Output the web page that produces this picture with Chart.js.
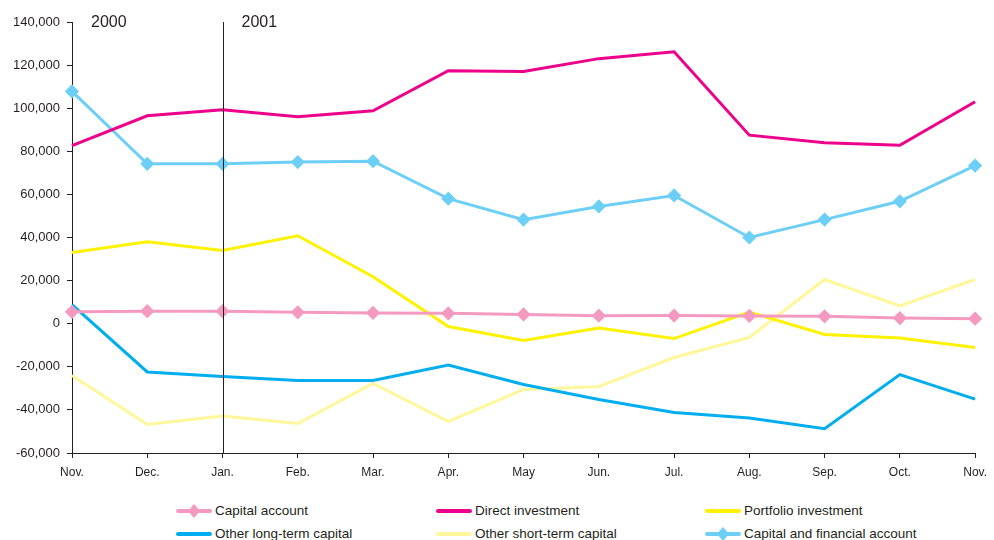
<!DOCTYPE html>
<html>
<head>
<meta charset="utf-8">
<script src="https://cdn.jsdelivr.net/npm/chart.js@4/dist/chart.umd.min.js"></script>
<style>
  body { margin: 0; background: #fff; font-family: "Liberation Sans", Arial, sans-serif; }
  #wrap { position: relative; width: 994px; height: 540px; }
  #legend { position: absolute; left: 0; top: 503px; width: 994px; }
  .legend-item { position: absolute; display: flex; align-items: center; font-size: 13.5px; color: #231f20; }
  .legend-item canvas { margin-right: 3px; }
</style>
</head>
<body>
<div id="wrap">
  <canvas id="chart" width="994" height="490"></canvas>
  <div id="legend"></div>
</div>
<script>
const months = ['Nov.', 'Dec.', 'Jan.', 'Feb.', 'Mar.', 'Apr.', 'May', 'Jun.', 'Jul.', 'Aug.', 'Sep.', 'Oct.', 'Nov.'];

const capitalAccount = [5500, 5800, 5800, 5300, 5000, 4800, 4300, 3700, 3800, 3600, 3400, 2600, 2300];
const directInvestment = [82600, 96500, 99300, 96000, 98800, 117400, 117000, 123000, 126200, 87500, 84000, 82800, 103000];
const portfolioInvestment = [33000, 38000, 34000, 40800, 21800, -1300, -7800, -2000, -6900, 5400, -5000, -6600, -11000];
const otherLongTerm = [8900, -22400, -24500, -26300, -26300, -19200, -28200, -35200, -41200, -43800, -48700, -23600, -35000];
const otherShortTerm = [-24000, -46800, -42800, -46300, -27700, -45400, -30500, -29200, -15700, -6400, 20500, 8200, 20500];
const capitalFinancial = [107800, 74200, 74200, 75000, 75400, 58000, 48300, 54400, 59500, 40000, 48300, 56800, 73400];

const yearLabels = [{ text: '2000', index: 0 }, { text: '2001', index: 2 }];
const axisColor = '#231f20';

function makeSet(label, data, color, diamonds) {
    return {
        label: label,
        data: data,
        borderColor: color,
        backgroundColor: color,
        borderWidth: 3,
        pointStyle: 'rectRot',
        pointRadius: diamonds ? 5 : 0,
        pointHoverRadius: diamonds ? 5 : 0,
        tension: 0
    };
}

const datasets = [
    makeSet('Capital account', capitalAccount, '#f49ac1', true),
    makeSet('Direct investment', directInvestment, '#ec008c', false),
    makeSet('Portfolio investment', portfolioInvestment, '#fff200', false),
    makeSet('Other long-term capital', otherLongTerm, '#00aeef', false),
    makeSet('Other short-term capital', otherShortTerm, '#fff799', false),
    makeSet('Capital and financial account', capitalFinancial, '#6dcff6', true)
];

// vertical divider at Jan. and the year captions
const yearMarker = {
    id: 'yearMarker',
    afterDatasetsDraw(chart) {
        const ctx = chart.ctx;
        const x = chart.scales.x;
        const area = chart.chartArea;
        const xJan = Math.round(x.getPixelForValue(2)) + 0.5;
        ctx.save();
        ctx.strokeStyle = axisColor;
        ctx.lineWidth = 1;
        ctx.beginPath();
        ctx.moveTo(xJan, area.top);
        ctx.lineTo(xJan, area.bottom);
        ctx.stroke();
        ctx.fillStyle = axisColor;
        ctx.font = '16px "Liberation Sans", Arial, sans-serif';
        ctx.textBaseline = 'middle';
        yearLabels.forEach(y => {
            ctx.fillText(y.text, x.getPixelForValue(y.index) + 19, area.top + 1);
        });
        ctx.restore();
    }
};

new Chart(document.getElementById('chart').getContext('2d'), {
    type: 'line',
    data: { labels: months, datasets: datasets },
    options: {
        responsive: false,
        animation: false,
        layout: { padding: { top: 22, right: 17, left: 0, bottom: 0 } },
        plugins: {
            legend: { display: false },
            tooltip: { enabled: false }
        },
        scales: {
            x: {
                offset: false,
                afterFit: s => { s.height = 37; },
                grid: { drawOnChartArea: false, drawTicks: true, tickLength: 5, color: axisColor },
                border: { display: true, color: axisColor, width: 1 },
                ticks: {
                    color: axisColor,
                    padding: 7,
                    maxRotation: 0,
                    autoSkip: false,
                    font: { family: '"Liberation Sans", Arial, sans-serif', size: 12 }
                }
            },
            y: {
                min: -60000,
                max: 140000,
                afterFit: s => { s.width = 72; },
                grid: { drawOnChartArea: false, drawTicks: true, tickLength: 5, color: axisColor },
                border: { display: true, color: axisColor, width: 1 },
                ticks: {
                    stepSize: 20000,
                    color: axisColor,
                    padding: 7,
                    font: { family: '"Liberation Sans", Arial, sans-serif', size: 13 },
                    callback: v => v.toLocaleString('en-US')
                }
            }
        }
    },
    plugins: [yearMarker]
});

// legend: three columns, two rows
const legendCols = [176, 436, 705];
const legendRows = [0, 23];
const legendBox = document.getElementById('legend');
datasets.forEach((ds, i) => {
    const item = document.createElement('div');
    item.className = 'legend-item';
    item.style.left = legendCols[i % 3] + 'px';
    item.style.top = legendRows[Math.floor(i / 3)] + 'px';
    const swatch = document.createElement('canvas');
    swatch.width = 36;
    swatch.height = 14;
    const c = swatch.getContext('2d');
    c.strokeStyle = ds.borderColor;
    c.lineWidth = 4;
    c.lineCap = 'round';
    c.beginPath();
    c.moveTo(2, 7);
    c.lineTo(34, 7);
    c.stroke();
    if (ds.pointRadius > 0) {
        c.fillStyle = ds.borderColor;
        c.beginPath();
        c.moveTo(18, 0);
        c.lineTo(24, 7);
        c.lineTo(18, 14);
        c.lineTo(12, 7);
        c.closePath();
        c.fill();
    }
    item.appendChild(swatch);
    const text = document.createElement('span');
    text.textContent = ds.label;
    item.appendChild(text);
    legendBox.appendChild(item);
});
</script>
</body>
</html>
